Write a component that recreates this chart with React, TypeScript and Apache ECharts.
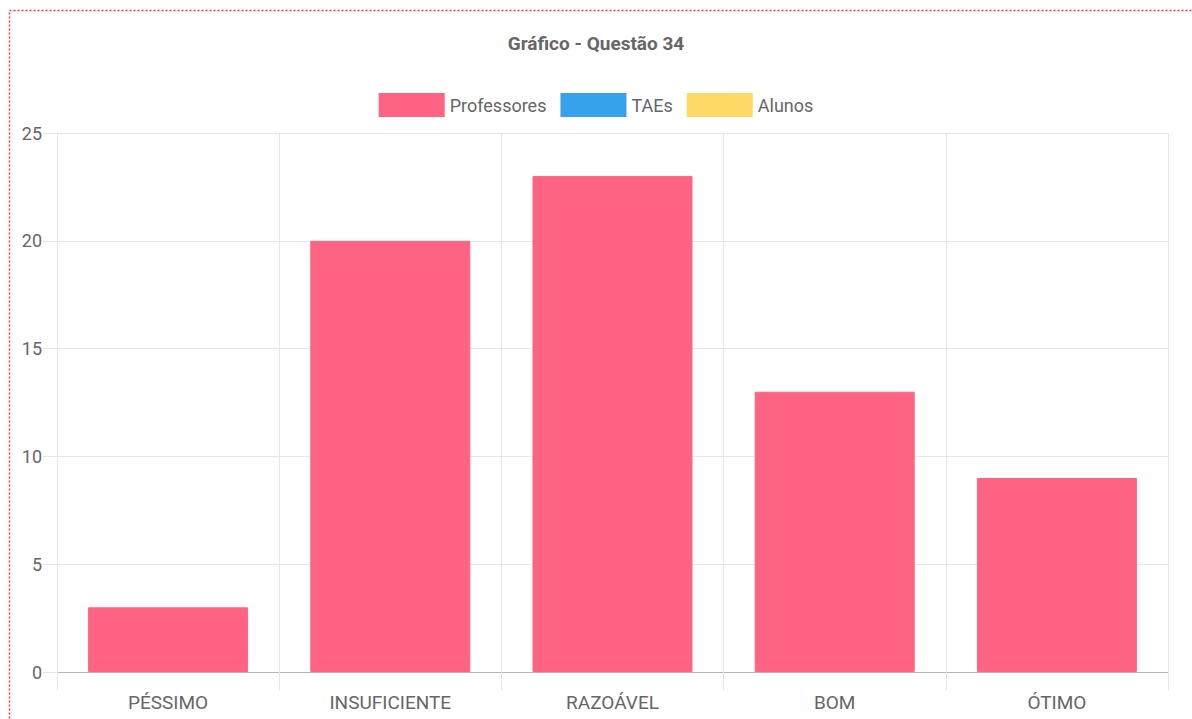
import React, { useEffect, useRef } from "react";
import * as echarts from "echarts";

const categories = ["PÉSSIMO", "INSUFICIENTE", "RAZOÁVEL", "BOM", "ÓTIMO"];
const professores = [3, 20, 23, 13, 9];
const taes: number[] = [];
const alunos: number[] = [];
const yTicks = { min: 0, max: 25, interval: 5 };

export default function App() {
  const ref = useRef<HTMLDivElement>(null);
  useEffect(() => {
    if (!ref.current) return;
    const chart = echarts.init(ref.current, null, { renderer: "svg" });
    const font = "Roboto, 'Liberation Sans', Arial, sans-serif";
    const mk = (name: string, data: number[], color: string, border: string) => ({
      name,
      type: "bar",
      data,
      barWidth: "72%",
      barGap: "-100%",
      itemStyle: { color, borderColor: border, borderWidth: 1 },
    });
    chart.setOption({
      animation: false,
      backgroundColor: "#ffffff",
      title: {
        text: "Gráfico - Questão 34",
        left: "center",
        top: 29,
        textStyle: { fontFamily: font, fontSize: 19, fontWeight: "bold", color: "#666" },
      },
      legend: {
        top: 88,
        left: "center",
        itemWidth: 64,
        itemHeight: 22,
        itemGap: 14,
        icon: "rect",
        textStyle: { fontFamily: font, fontSize: 18, color: "#666", padding: [0, 0, 0, 1] },
        data: ["Professores", "TAEs", "Alunos"],
      },
      grid: { left: 57, right: 24, top: 133, bottom: 47, containLabel: false },
      xAxis: {
        type: "category",
        data: categories,
        axisLine: { lineStyle: { color: "#b5b5b5", width: 1 } },
        axisTick: { show: true, alignWithLabel: false, length: 18, lineStyle: { color: "#e6e6e6" } },
        splitLine: { show: true, lineStyle: { color: "#e6e6e6" } },
        axisLabel: { fontFamily: font, fontSize: 19, color: "#666", margin: 21 },
      },
      yAxis: {
        type: "value",
        min: yTicks.min,
        max: yTicks.max,
        interval: yTicks.interval,
        axisLine: { show: true, lineStyle: { color: "#e6e6e6" } },
        axisTick: { show: true, length: 14, lineStyle: { color: "#e6e6e6" } },
        splitLine: { show: true, lineStyle: { color: "#e6e6e6" } },
        axisLabel: { fontFamily: font, fontSize: 18, color: "#666", margin: 15 },
      },
      series: [
        mk("Professores", professores, "#ff6384", "#ff6384"),
        mk("TAEs", taes, "#36a2eb", "#36a2eb"),
        mk("Alunos", alunos, "#ffd966", "#ffd966"),
      ],
      graphic: [
        {
          type: "rect",
          silent: true,
          shape: { x: 9.5, y: 10.5, width: 1250, height: 800 },
          style: { fill: "none", stroke: "#ff3333", lineWidth: 1.5, lineDash: [2, 2] },
        },
      ],
    });
    return () => chart.dispose();
  }, []);
  return (
    <div style={{ position: "fixed", left: 0, top: 0, width: 1192, height: 719 }}>
      <div ref={ref} style={{ width: 1192, height: 719 }} />
    </div>
  );
}
